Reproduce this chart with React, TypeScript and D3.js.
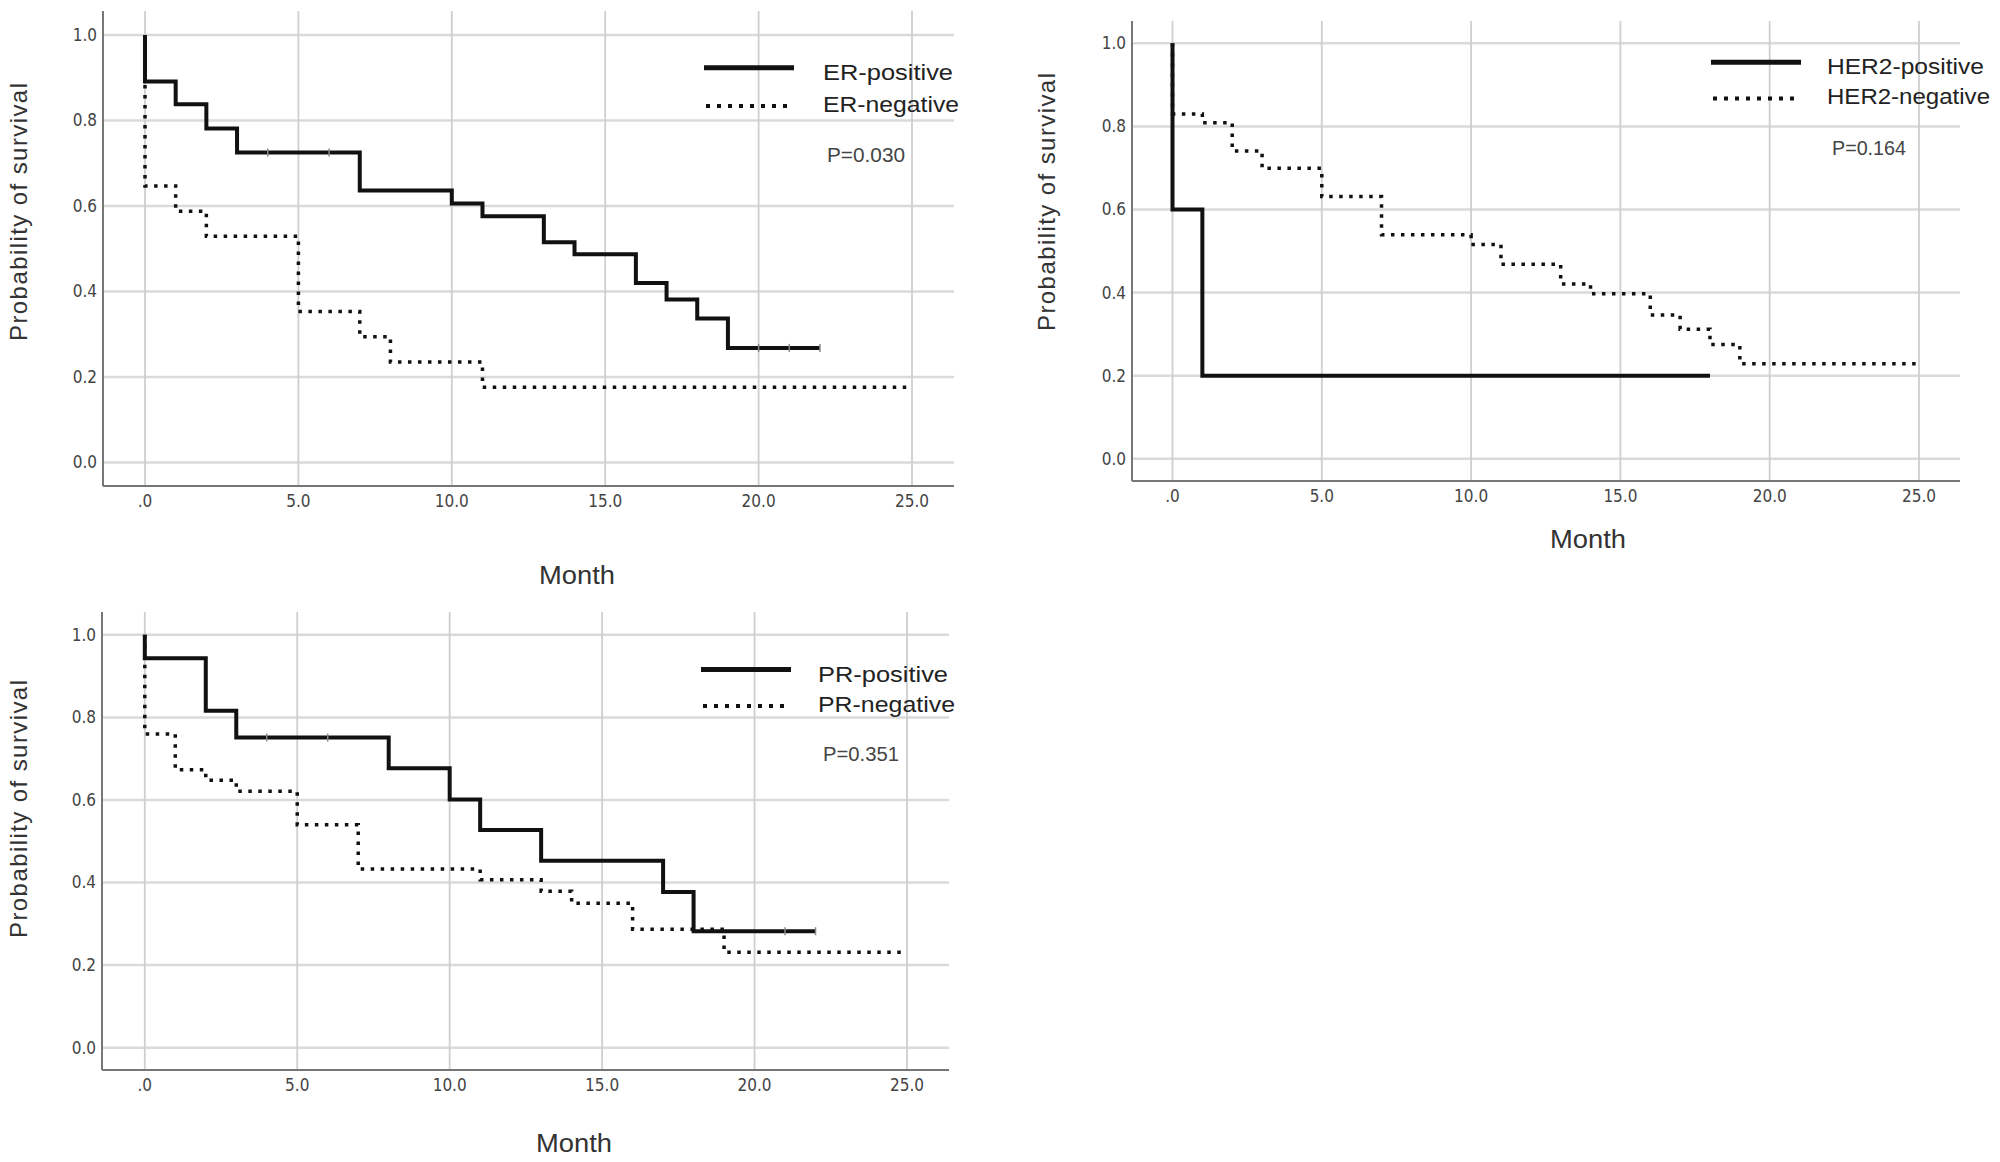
import * as d3 from "d3";

const X_TICKS = [0, 5, 10, 15, 20, 25];
const Y_TICKS = [0, 0.2, 0.4, 0.6, 0.8, 1.0];

// ER
const ER_POS_T = [0, 0, 1, 2, 3, 7, 10, 11, 13, 14, 16, 17, 18, 19, 22];
const ER_POS_S = [1.0, 0.891, 0.838, 0.781, 0.725, 0.636, 0.606, 0.576, 0.515, 0.487, 0.42, 0.381, 0.337, 0.268, 0.268];
const ER_POS_CENSOR = [4, 6, 20, 21, 22];
const ER_NEG_T = [0, 0, 1, 2, 5, 7, 8, 11, 25];
const ER_NEG_S = [1.0, 0.647, 0.588, 0.529, 0.353, 0.294, 0.235, 0.176, 0.176];

// HER2
const HER2_POS_T = [0, 0, 1, 18];
const HER2_POS_S = [1.0, 0.6, 0.2, 0.2];
const HER2_NEG_T = [0, 0, 1, 2, 3, 5, 7, 10, 11, 13, 14, 16, 17, 18, 19, 25];
const HER2_NEG_S = [1.0, 0.83, 0.809, 0.741, 0.699, 0.631, 0.539, 0.516, 0.468, 0.421, 0.397, 0.346, 0.312, 0.275, 0.229, 0.229];

// PR
const PR_POS_T = [0, 0, 2, 3, 8, 10, 11, 13, 17, 18, 22];
const PR_POS_S = [1.0, 0.943, 0.816, 0.751, 0.677, 0.601, 0.527, 0.453, 0.377, 0.282, 0.282];
const PR_POS_CENSOR = [4, 6, 21, 22];
const PR_NEG_T = [0, 0, 1, 2, 3, 5, 7, 11, 13, 14, 16, 19, 25];
const PR_NEG_S = [1.0, 0.76, 0.673, 0.648, 0.621, 0.54, 0.433, 0.407, 0.379, 0.35, 0.287, 0.231, 0.231];

// ── Layout ────────────────────────────────────────────────────
const W = 2000;
const H = 1162;
const SANS = "'Liberation Sans', Arial, sans-serif";
const NARROW = "'Liberation Sans Narrow', 'Arial Narrow', 'DejaVu Sans Condensed', sans-serif";

interface Frame {
  left: number; right: number; top: number; bottom: number;
  x0: number; x25: number; y0: number; y1: number;
}

interface PanelProps {
  f: Frame;
  pos: { t: number[]; s: number[]; censor?: number[] };
  neg: { t: number[]; s: number[] };
  labels: [string, string];
  labelW: [number, number];
  pValue: string;
  legend: { x: number; ySolid: number; yDot: number; textX: number; pX: number; pY: number; pW: number };
  yTitle: { x: number; y: number };
  month: { x: number; y: number };
}

const xFmt = (d: number) => (d === 0 ? ".0" : d3.format(".1f")(d));
const yFmt = d3.format(".1f");

function Panel({ f, pos, neg, labels, labelW, pValue, legend, yTitle, month }: PanelProps) {
  const x = d3.scaleLinear().domain([0, 25]).range([f.x0, f.x25]);
  const y = d3.scaleLinear().domain([0, 1]).range([f.y0, f.y1]);
  const line = d3.line<[number, number]>()
    .x((d) => x(d[0]))
    .y((d) => y(d[1]))
    .curve(d3.curveStepAfter);

  const posPts = pos.t.map((t, i) => [t, pos.s[i]] as [number, number]);
  const negPts = neg.t.map((t, i) => [t, neg.s[i]] as [number, number]);

  // survival value at a censoring time (step function lookup)
  const survAt = (t: number) => {
    let v = pos.s[0];
    pos.t.forEach((tt, i) => { if (tt <= t) v = pos.s[i]; });
    return v;
  };

  return (
    <g>
      {/* grid */}
      {Y_TICKS.map((v) => (
        <line key={"gy" + v} x1={f.left} x2={f.right} y1={y(v)} y2={y(v)} stroke="#dadada" strokeWidth={2.5} />
      ))}
      {X_TICKS.map((v) => (
        <line key={"gx" + v} x1={x(v)} x2={x(v)} y1={f.top} y2={f.bottom} stroke="#cfcfcf" strokeWidth={1.8} />
      ))}
      {/* axes */}
      <line x1={f.left} x2={f.left} y1={f.top} y2={f.bottom} stroke="#777" strokeWidth={2} />
      <line x1={f.left} x2={f.right} y1={f.bottom} y2={f.bottom} stroke="#777" strokeWidth={2.2} />
      {Y_TICKS.map((v) => (
        <text key={"ty" + v} x={f.left - 6} y={y(v)} dy="0.35em" textAnchor="end"
          fontFamily={NARROW} fontSize={17} fill="#444">{yFmt(v)}</text>
      ))}
      {X_TICKS.map((v) => (
        <text key={"tx" + v} x={x(v)} y={f.bottom + 21} textAnchor="middle"
          fontFamily={NARROW} fontSize={17} fill="#444">{xFmt(v)}</text>
      ))}

      {/* curves */}
      <path d={line(negPts) ?? ""} fill="none" stroke="#111" strokeWidth={3.5} strokeDasharray="3.5 6.5" />
      <path d={line(posPts) ?? ""} fill="none" stroke="#111" strokeWidth={4} />
      {(pos.censor ?? []).map((t) => (
        <line key={"c" + t} x1={x(t)} x2={x(t)} y1={y(survAt(t)) - 4} y2={y(survAt(t)) + 4}
          stroke="#888" strokeWidth={1.5} />
      ))}

      {/* legend */}
      <line x1={legend.x} x2={legend.x + 90} y1={legend.ySolid} y2={legend.ySolid} stroke="#111" strokeWidth={5} />
      <line x1={legend.x + 2} x2={legend.x + 88} y1={legend.yDot} y2={legend.yDot} stroke="#111" strokeWidth={4}
        strokeDasharray="4 7" />
      <text x={legend.textX} y={legend.ySolid + 12} fontFamily={SANS} fontSize={22} fill="#222"
        textLength={labelW[0]} lengthAdjust="spacingAndGlyphs">{labels[0]}</text>
      <text x={legend.textX} y={legend.yDot + 5.5} fontFamily={SANS} fontSize={22} fill="#222"
        textLength={labelW[1]} lengthAdjust="spacingAndGlyphs">{labels[1]}</text>
      <text x={legend.pX} y={legend.pY} fontFamily={SANS} fontSize={20} fill="#444"
        textLength={legend.pW} lengthAdjust="spacingAndGlyphs">{pValue}</text>

      {/* axis titles */}
      <text transform={`translate(${yTitle.x},${yTitle.y}) rotate(-90)`} textAnchor="middle"
        fontFamily={SANS} fontSize={24} fill="#333" textLength={258} lengthAdjust="spacing">
        Probability of survival
      </text>
      <text x={month.x} y={month.y} textAnchor="middle" fontFamily={SANS} fontSize={26} fill="#333"
        textLength={76} lengthAdjust="spacingAndGlyphs">Month</text>
    </g>
  );
}

export default function App() {
  return (
    <div style={{ position: "absolute", left: 0, top: 0, width: W, height: H, background: "#fff" }}>
      <svg width={W} height={H} viewBox={`0 0 ${W} ${H}`}>
        <rect width={W} height={H} fill="#fff" />
        <Panel
          f={{ left: 103, right: 954, top: 11, bottom: 486, x0: 145, x25: 912, y0: 462.5, y1: 35 }}
          pos={{ t: ER_POS_T, s: ER_POS_S, censor: ER_POS_CENSOR }}
          neg={{ t: ER_NEG_T, s: ER_NEG_S }}
          labels={["ER-positive", "ER-negative"]}
          labelW={[130, 136]}
          pValue="P=0.030"
          legend={{ x: 704, ySolid: 67.7, yDot: 106, textX: 823, pX: 827, pY: 162, pW: 78 }}
          yTitle={{ x: 27, y: 212 }}
          month={{ x: 577, y: 584 }}
        />
        <Panel
          f={{ left: 1132, right: 1960, top: 21, bottom: 481, x0: 1172.5, x25: 1919, y0: 458.8, y1: 43.3 }}
          pos={{ t: HER2_POS_T, s: HER2_POS_S }}
          neg={{ t: HER2_NEG_T, s: HER2_NEG_S }}
          labels={["HER2-positive", "HER2-negative"]}
          labelW={[157, 163]}
          pValue="P=0.164"
          legend={{ x: 1711, ySolid: 62.2, yDot: 98.5, textX: 1827, pX: 1832, pY: 154.5, pW: 74 }}
          yTitle={{ x: 1055, y: 202 }}
          month={{ x: 1588, y: 548 }}
        />
        <Panel
          f={{ left: 102, right: 949, top: 612, bottom: 1070, x0: 144.8, x25: 907, y0: 1047.7, y1: 634.8 }}
          pos={{ t: PR_POS_T, s: PR_POS_S, censor: PR_POS_CENSOR }}
          neg={{ t: PR_NEG_T, s: PR_NEG_S }}
          labels={["PR-positive", "PR-negative"]}
          labelW={[130, 137]}
          pValue="P=0.351"
          legend={{ x: 701, ySolid: 669.6, yDot: 706, textX: 818, pX: 823, pY: 761, pW: 76 }}
          yTitle={{ x: 27, y: 809 }}
          month={{ x: 574, y: 1152 }}
        />
      </svg>
    </div>
  );
}
